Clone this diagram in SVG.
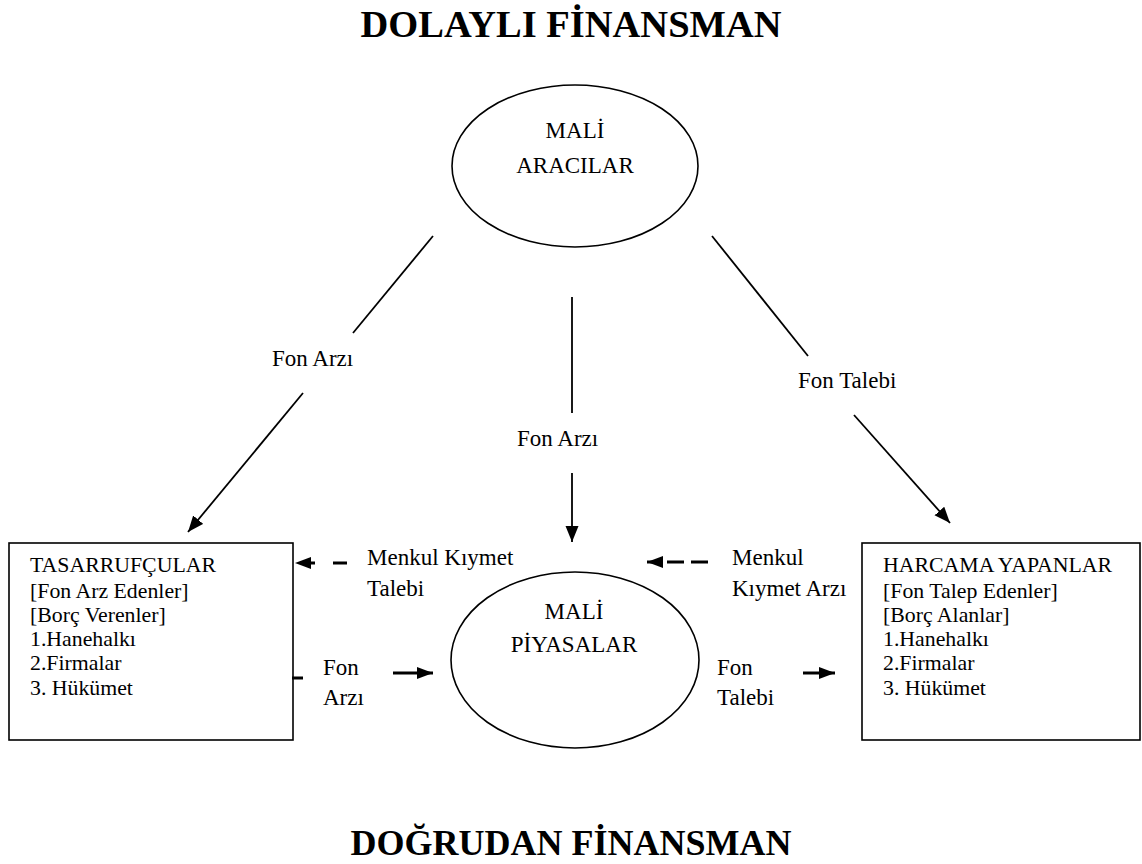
<svg xmlns="http://www.w3.org/2000/svg" width="1142" height="864" viewBox="0 0 1142 864">
<style>
text { font-family: "Liberation Serif", "Times New Roman", serif; fill: #000; }
.title { font-size: 38.5px; font-weight: bold; text-anchor: middle; }
.node { font-size: 23px; text-anchor: middle; }
.box { font-size: 21.8px; }
.lbl { font-size: 23px; }
.shape { fill: #fff; stroke: #000; stroke-width: 1.6; }
.conn { stroke: #000; stroke-width: 1.8; fill: none; }
.thick { stroke: #000; stroke-width: 3; fill: none; }
</style>
<defs>
<marker id="ah" markerUnits="userSpaceOnUse" markerWidth="18" markerHeight="14" refX="16" refY="6.5" orient="auto">
<path d="M0,0 L16,6.5 L0,13 z" fill="#000"/>
</marker>
<marker id="ahs" markerUnits="userSpaceOnUse" markerWidth="18" markerHeight="14" refX="16" refY="6" orient="auto">
<path d="M0,0 L16,6 L0,12 z" fill="#000"/>
</marker>
</defs>

<text class="title" x="571" y="37">DOLAYLI FİNANSMAN</text>
<text class="title" x="571" y="855" style="font-size:36px">DOĞRUDAN FİNANSMAN</text>

<g id="mali-aracilar">
<ellipse class="shape" cx="575" cy="166" rx="123" ry="81"/>
<text class="node" x="575" y="138">MALİ</text>
<text class="node" x="575" y="173">ARACILAR</text>
</g>

<g id="mali-piyasalar">
<ellipse class="shape" cx="575" cy="660" rx="124" ry="88"/>
<text class="node" x="574" y="619">MALİ</text>
<text class="node" x="574" y="652">PİYASALAR</text>
</g>

<g id="tasarrufcular">
<rect class="shape" x="9" y="543" width="284" height="197"/>
<text class="box" x="30" y="572">TASARRUFÇULAR</text>
<text class="box" x="30" y="598">[Fon Arz Edenler]</text>
<text class="box" x="30" y="622">[Borç Verenler]</text>
<text class="box" x="30" y="646">1.Hanehalkı</text>
<text class="box" x="30" y="670">2.Firmalar</text>
<text class="box" x="30" y="695">3. Hükümet</text>
</g>

<g id="harcama-yapanlar">
<rect class="shape" x="862" y="543" width="278" height="197"/>
<text class="box" x="883" y="572">HARCAMA YAPANLAR</text>
<text class="box" x="883" y="598">[Fon Talep Edenler]</text>
<text class="box" x="883" y="622">[Borç Alanlar]</text>
<text class="box" x="883" y="646">1.Hanehalkı</text>
<text class="box" x="883" y="670">2.Firmalar</text>
<text class="box" x="883" y="695">3. Hükümet</text>
</g>

<g id="connectors">
<line class="conn" x1="433" y1="236" x2="353" y2="333"/>
<line class="conn" x1="303" y1="393" x2="188" y2="532" marker-end="url(#ah)"/>
<line class="conn" x1="712" y1="236" x2="808" y2="356"/>
<line class="conn" x1="854" y1="415" x2="950" y2="523" marker-end="url(#ah)"/>
<line class="conn" x1="572" y1="297" x2="572" y2="413"/>
<line class="conn" x1="572" y1="473" x2="572" y2="542" marker-end="url(#ah)"/>
<line class="thick" x1="347" y1="563" x2="295" y2="563" stroke-dasharray="14 18" marker-end="url(#ahs)"/>
<line class="thick" x1="708" y1="562" x2="647" y2="562" stroke-dasharray="17 7" marker-end="url(#ahs)"/>
<line class="thick" x1="292" y1="678" x2="303" y2="678"/>
<line class="thick" x1="393" y1="673" x2="433" y2="673" marker-end="url(#ahs)"/>
<line class="thick" x1="803" y1="673" x2="835" y2="673" marker-end="url(#ahs)"/>
</g>

<g id="labels">
<text class="lbl" x="272" y="366">Fon Arzı</text>
<text class="lbl" x="517" y="446">Fon Arzı</text>
<text class="lbl" x="798" y="388">Fon Talebi</text>
<text class="lbl" x="367" y="565">Menkul Kıymet</text>
<text class="lbl" x="367" y="596">Talebi</text>
<text class="lbl" x="732" y="565">Menkul</text>
<text class="lbl" x="732" y="596">Kıymet Arzı</text>
<text class="lbl" x="323" y="675">Fon</text>
<text class="lbl" x="323" y="705">Arzı</text>
<text class="lbl" x="717" y="675">Fon</text>
<text class="lbl" x="717" y="705">Talebi</text>
</g>
</svg>
